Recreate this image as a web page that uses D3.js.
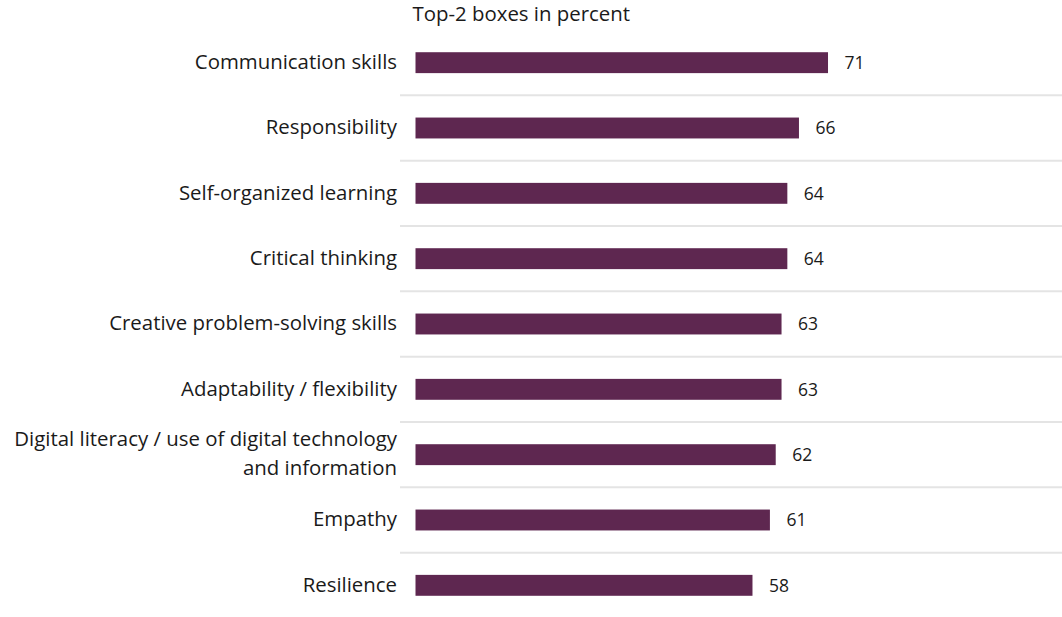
<!DOCTYPE html>
<html>
<head>
<meta charset="utf-8">
<script src="https://cdn.jsdelivr.net/npm/d3@7"></script>
<style>
  html, body { margin: 0; padding: 0; background: #ffffff; }
  svg { display: block; }
  text { font-family: "Open Sans", Lato, sans-serif; fill: #1a1a1a; }
</style>
</head>
<body>
<svg id="chart" width="1062" height="617"></svg>
<script>
// Skill categories (multi-line labels split with "\n")
const categories = [
  "Communication skills",
  "Responsibility",
  "Self-organized learning",
  "Critical thinking",
  "Creative problem-solving skills",
  "Adaptability / flexibility",
  "Digital literacy / use of digital technology\nand information",
  "Empathy",
  "Resilience"
];
// Top-2 box shares in percent
const values = [71, 66, 64, 64, 63, 63, 62, 61, 58];
const axisTitle = "Top-2 boxes in percent";

const svg = d3.select("#chart");
const W = 1062, H = 617;

const x = d3.scaleLinear().domain([0, 100]).range([415.5, 996.5]);
const y = d3.scaleBand()
  .domain(categories)
  .range([30, 618])
  .paddingInner(0.68)
  .paddingOuter(0.34);

const step = y.step();

// Row separators between categories
svg.append("g")
  .selectAll("line")
  .data(categories.slice(1))
  .join("line")
  .attr("x1", 400)
  .attr("x2", W)
  .attr("y1", d => y(d) + y.bandwidth() / 2 - step / 2)
  .attr("y2", d => y(d) + y.bandwidth() / 2 - step / 2)
  .attr("stroke", "#e4e4e4")
  .attr("stroke-width", 2);

// Bars
svg.append("g")
  .selectAll("rect")
  .data(values)
  .join("rect")
  .attr("x", x(0))
  .attr("y", (d, i) => y(categories[i]))
  .attr("width", d => x(d) - x(0))
  .attr("height", y.bandwidth())
  .attr("fill", "#5e2750");

// Value labels
svg.append("g")
  .selectAll("text")
  .data(values)
  .join("text")
  .attr("x", d => x(d) + 16.5)
  .attr("y", (d, i) => y(categories[i]) + y.bandwidth() / 2 + 6.3)
  .attr("font-size", 17.5)
  .text(d => d);

// Category labels, right-aligned
const fs = 20.4;
const labels = svg.append("g")
  .selectAll("text")
  .data(categories)
  .join("text")
  .attr("text-anchor", "end")
  .attr("font-size", fs)
  .attr("x", 397)
  .attr("y", d => y(d) + y.bandwidth() / 2);

labels.each(function(d) {
  const lines = d.split("\n");
  const lh = 29;
  const t = d3.select(this);
  lines.forEach((ln, k) => {
    t.append("tspan")
      .attr("x", 397)
      .attr("dy", k === 0 ? (6.2 - (lines.length - 1) * lh / 2) : lh)
      .text(ln);
  });
});

// Axis title
svg.append("text")
  .attr("x", 412.5)
  .attr("y", 20.5)
  .attr("font-size", 20.4)
  .text(axisTitle);
</script>
</body>
</html>
